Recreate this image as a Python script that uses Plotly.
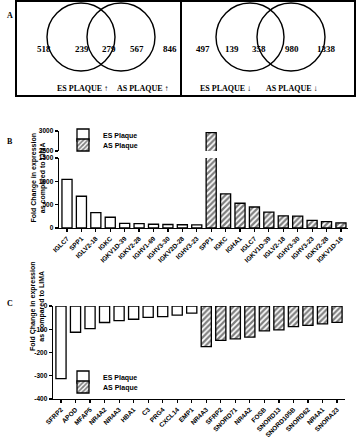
import plotly.graph_objects as go

W, H = 358, 440

# ---------------- data ----------------
venn_up_values = [518, 239, 279, 567, 846]
venn_down_values = [497, 139, 358, 980, 1338]
venn_up_labels = ["ES PLAQUE ↑", "AS PLAQUE ↑"]
venn_down_labels = ["ES PLAQUE ↓", "AS PLAQUE ↓"]

es_b_genes = ["IGLC7", "SPP1", "IGLV2-18", "IGKC", "IGKV1D-39", "IGKV2-28",
              "IGHV1-69", "IGHV3-30", "IGKV2D-28", "IGHV3-23"]
es_b_vals = [1040, 680, 330, 230, 100, 95, 80, 75, 70, 65]
as_b_genes = ["SPP1", "IGKC", "IGHA1", "IGLC7", "IGKV1D-39", "IGLV2-18",
              "IGHV3-30", "IGHV3-23", "IGKV2-28", "IGKV1D-16"]
as_b_vals = [2960, 730, 530, 450, 340, 260, 255, 165, 135, 110]

es_c_genes = ["SFRP2", "APOD", "MFAP5", "NR4A2", "NR4A3", "HBA1", "C3",
              "PRG4", "CXCL14", "EMP1"]
es_c_vals = [-312, -113, -97, -71, -63, -57, -49, -46, -39, -31]
as_c_genes = ["NR4A3", "SFRP2", "SNORD71", "NR4A2", "FOSB", "SNORD13",
              "SNORD105B", "SNORD62", "NR4A1", "SNORA23"]
as_c_vals = [-175, -148, -141, -134, -107, -103, -89, -83, -77, -70]

b_low_ticks = [0, 500, 1000, 1500]
b_high_ticks = [2500, 3000]
c_ticks = [0, -100, -200, -300, -400]

y_title = "Fold Change in expression<br>as compared to LIMA"

# ---------------- helpers ----------------
def px(x):
    return x / W

def py(y):
    return 1 - y / H

SANS = "Liberation Sans, Arial, sans-serif"
SERIF = "Liberation Serif, Times New Roman, serif"

es_style = dict(color="white", line=dict(color="black", width=1.3))
as_style = dict(color="white", line=dict(color="black", width=1.3),
                pattern=dict(shape="/", fgcolor="black", bgcolor="white",
                             size=4, solidity=0.55))

xb_es = list(range(len(es_b_genes)))
xb_as = [len(es_b_genes) + i for i in range(len(as_b_genes))]
xc_es = list(range(len(es_c_genes)))
xc_as = [len(es_c_genes) + i for i in range(len(as_c_genes))]

fig = go.Figure()

# Panel B: lower segment (x, y) and upper segment (x2, y2)
fig.add_trace(go.Bar(x=xb_es, y=es_b_vals, marker=es_style, name="ES Plaque",
                     xaxis="x", yaxis="y", legend="legend"))
fig.add_trace(go.Bar(x=xb_as, y=as_b_vals, marker=as_style, name="AS Plaque",
                     xaxis="x", yaxis="y", legend="legend3"))
fig.add_trace(go.Bar(x=xb_es, y=es_b_vals, marker=es_style, showlegend=False,
                     xaxis="x2", yaxis="y2"))
fig.add_trace(go.Bar(x=xb_as, y=as_b_vals, marker=as_style, showlegend=False,
                     xaxis="x2", yaxis="y2"))

# Panel C
fig.add_trace(go.Bar(x=xc_es, y=es_c_vals, marker=es_style, name="ES Plaque",
                     xaxis="x3", yaxis="y3", legend="legend2"))
fig.add_trace(go.Bar(x=xc_as, y=as_c_vals, marker=as_style, name="AS Plaque",
                     xaxis="x3", yaxis="y3", legend="legend4"))

tickfont = dict(family=SANS, size=6.5, color="black", weight="bold")
axis_common = dict(showline=True, linecolor="black", linewidth=1.4,
                   ticks="outside", ticklen=3, tickwidth=1.2, tickcolor="black",
                   showgrid=False, zeroline=False, automargin=False,
                   tickfont=tickfont)

b_range = [-0.555, 19.49]
b_dom = [px(59), px(348)]
c_range = [-0.55, 19.55]
c_dom = [px(53), px(345)]

leg_font = dict(family=SANS, size=7, color="black", weight="bold")

def leg(xp, yp):
    return dict(x=px(xp), y=py(yp), xanchor="left", yanchor="middle",
                bgcolor="rgba(0,0,0,0)", font=leg_font, itemwidth=30,
                borderwidth=0)

fig.update_layout(
    width=W, height=H, margin=dict(l=0, r=0, t=0, b=0),
    paper_bgcolor="white", plot_bgcolor="rgba(0,0,0,0)",
    barmode="overlay", bargap=0.3, hovermode=False,
    xaxis=dict(domain=b_dom, range=b_range, anchor="y",
               tickmode="array", tickvals=xb_es + xb_as,
               ticktext=es_b_genes + as_b_genes, tickangle=-45, **axis_common),
    yaxis=dict(domain=[py(228), py(158)], range=[0, 1500], anchor="x",
               tickvals=b_low_ticks, ticktext=[str(v) for v in b_low_ticks],
               **axis_common),
    xaxis2=dict(domain=b_dom, range=b_range, anchor="y2", visible=False),
    yaxis2=dict(domain=[py(151), py(131)], range=[2500, 3000], anchor="x2",
                tickvals=b_high_ticks, ticktext=[str(v) for v in b_high_ticks],
                **axis_common),
    xaxis3=dict(domain=c_dom, range=c_range, anchor="y3",
                tickmode="array", tickvals=xc_es + xc_as,
                ticktext=es_c_genes + as_c_genes, tickangle=-45, **axis_common),
    xaxis4=dict(domain=c_dom, range=c_range, anchor="y3", overlaying="x3",
                side="top", showline=True, linecolor="black", linewidth=1.4,
                showticklabels=False, ticks="", showgrid=False, zeroline=False),
    yaxis3=dict(domain=[py(399), py(306)], range=[-400, 0], anchor="x3",
                tickvals=c_ticks, ticktext=[str(v) for v in c_ticks],
                **axis_common),
    legend=leg(63, 135),
    legend3=leg(63, 145),
    legend2=leg(63, 377),
    legend4=leg(63, 387),
)

# ---------------- Panel A: Venn diagrams ----------------
shapes = []
shapes.append(dict(type="rect", xref="paper", yref="paper",
                   x0=px(16), x1=px(181), y0=py(96), y1=py(1),
                   line=dict(color="black", width=2)))
shapes.append(dict(type="rect", xref="paper", yref="paper",
                   x0=px(181), x1=px(355), y0=py(96), y1=py(1),
                   line=dict(color="black", width=2)))
circles = [(81, 37), (121, 37), (250, 37), (291, 37)]
R = 34
for cx, cy in circles:
    shapes.append(dict(type="circle", xref="paper", yref="paper",
                       x0=px(cx - R), x1=px(cx + R), y0=py(cy + R), y1=py(cy - R),
                       line=dict(color="black", width=1.4)))
fig.update_layout(shapes=shapes)

ann = []
num_font = dict(family=SERIF, size=9, color="black", weight="bold")
up_x = [35, 73, 100, 137, 170]
down_x = [203, 241, 268, 301, 338]
for v, x in zip(venn_up_values, up_x):
    ann.append(dict(text=str(v), x=px(x), y=py(42), xref="paper", yref="paper",
                    showarrow=False, font=num_font))
for v, x in zip(venn_down_values, down_x):
    ann.append(dict(text=str(v), x=px(x), y=py(42), xref="paper", yref="paper",
                    showarrow=False, font=num_font))
lab_font = dict(family=SERIF, size=8, color="black", weight="bold")
for t, x in zip(venn_up_labels + venn_down_labels, [55, 143, 225, 320]):
    ann.append(dict(text=t, x=px(x), y=py(82), xref="paper", yref="paper",
                    showarrow=False, font=lab_font))

for t, y in [("A", 9), ("B", 135), ("C", 310)]:
    ann.append(dict(text=t, x=px(5), y=py(y), xref="paper", yref="paper",
                    showarrow=False, font=dict(family=SERIF, size=8,
                                               color="black", weight="bold")))

for y in [178, 353]:
    ann.append(dict(text=y_title, x=px(27), y=py(y), xref="paper", yref="paper",
                    showarrow=False, textangle=-90,
                    font=dict(family=SANS, size=7, color="black", weight="bold")))

fig.update_layout(annotations=ann)

fig.write_html("out.html",
               config={"displayModeBar": False, "staticPlot": True},
               post_script="document.body.style.margin='0';"
                           "document.body.style.overflow='hidden';")
